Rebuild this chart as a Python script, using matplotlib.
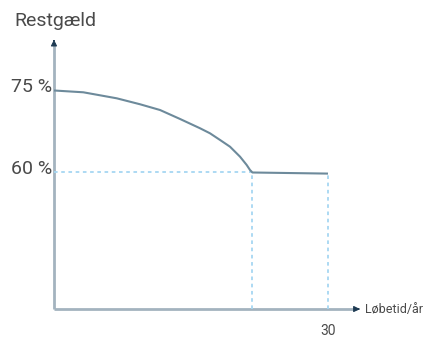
import matplotlib
matplotlib.use("Agg")
import matplotlib.pyplot as plt

# remaining debt (% of value) over the loan term in years
years = [0, 3.21, 6.87, 9.42, 11.61, 13.80, 15.99, 17.08, 18.18, 19.27,
         20.37, 21.10, 21.46, 21.73, 30]
debt = [75, 74.67, 73.57, 72.48, 71.43, 69.79, 68.09, 67.17, 65.95, 64.72,
        62.89, 61.37, 60.46, 60.0, 59.8]
switch_year = 21.73
term_end = 30
y_ticks = [75, 60]
y_tick_labels = ["75 %", "60 %"]

axis_col = "#a3b3bf"
arrow_col = "#1d3a52"
curve_col = "#6d8a9b"
dot_col = "#a6d7f2"
text_col = "#4a4a4a"

plt.rcParams['font.family'] = ['Roboto', 'DejaVu Sans']

fig = plt.figure(figsize=(4.26, 3.38), dpi=100)
ax = fig.add_axes([0, 0, 1, 1])
ax.set_xlim(-5.91, 40.73)
ax.set_ylim(29.73, 91.55)
ax.axis("off")

y_base = 35.03
y_top = 84.8
x_end = 33.8

# axes with arrow heads
ax.plot([0, x_end - 0.6], [y_base, y_base], color=axis_col, lw=2.0, solid_capstyle="butt")
ax.plot([0, 0], [y_base, y_top - 1.2], color=axis_col, lw=2.0, solid_capstyle="butt")
ax.annotate("", xy=(x_end, y_base), xytext=(x_end - 0.8, y_base),
            arrowprops=dict(arrowstyle="-|>", color=arrow_col, lw=0.8, mutation_scale=9))
ax.annotate("", xy=(0, y_top), xytext=(0, y_top - 1.2),
            arrowprops=dict(arrowstyle="-|>", color=arrow_col, lw=0.8, mutation_scale=9))

# dotted guide lines
ax.plot([0, switch_year], [debt[-2], debt[-2]], color=dot_col, lw=1.3, ls=(0, (2, 2)))
ax.plot([switch_year, switch_year], [y_base, debt[-2]], color=dot_col, lw=1.3, ls=(0, (2, 2)))
ax.plot([term_end, term_end], [y_base, debt[-1]], color=dot_col, lw=1.3, ls=(0, (2, 2)))

# debt curve
ax.plot(years, debt, color=curve_col, lw=1.5, solid_capstyle="butt", solid_joinstyle="round")

for v, lab in zip(y_ticks, y_tick_labels):
    ax.text(-0.15, v + 0.6, lab, ha="right", va="center", fontsize=14, color=text_col)

ax.text(0.1, 87.7, "Restgæld", ha="center", va="center", fontsize=14, color=text_col)
ax.text(term_end, y_base - 4.0, "30", ha="center", va="center", fontsize=10, color=text_col)
ax.text(x_end + 0.3, y_base, "Løbetid/år", ha="left", va="center", fontsize=9, color=text_col)

fig.savefig("out.png", dpi=100)
